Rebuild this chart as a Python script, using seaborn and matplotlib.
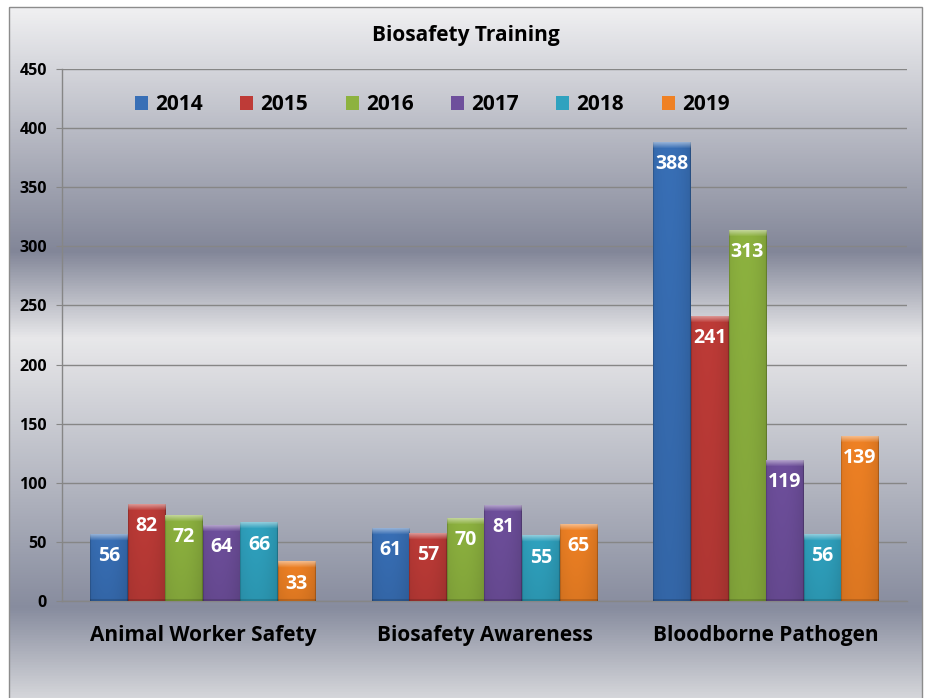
import numpy as np
import pandas as pd
import matplotlib
matplotlib.use("Agg")
import matplotlib.pyplot as plt
import seaborn as sns
from matplotlib.colors import LinearSegmentedColormap, to_rgb
from matplotlib.patches import Rectangle

# ---- data -------------------------------------------------------------
courses = ["Animal Worker Safety", "Biosafety Awareness", "Bloodborne Pathogen"]
years = ["2014", "2015", "2016", "2017", "2018", "2019"]
counts_2014 = [56, 61, 388]
counts_2015 = [82, 57, 241]
counts_2016 = [72, 70, 313]
counts_2017 = [64, 81, 119]
counts_2018 = [66, 55, 56]
counts_2019 = [33, 65, 139]
y_ticks = [0, 50, 100, 150, 200, 250, 300, 350, 400, 450]

series = [counts_2014, counts_2015, counts_2016, counts_2017, counts_2018, counts_2019]
df = pd.DataFrame(
    [(c, y, v) for y, vals in zip(years, series) for c, v in zip(courses, vals)],
    columns=["course", "year", "count"],
)

bar_colors = ["#386FB6", "#BE3B37", "#8DB23F", "#6E4F9C", "#2FA2BF", "#EF8124"]
FONT = "Open Sans"
plt.rcParams["font.family"] = [FONT, "DejaVu Sans"]

W, H = 926, 698
fig = plt.figure(figsize=(W / 100, H / 100), dpi=100)
fig.patch.set_facecolor("white")

# ---- silver banded background of the chart panel ------------------------
bg = fig.add_axes([0, 0, 1, 1], zorder=-10)
bg.set_xlim(0, W)
bg.set_ylim(H, 0)
bg.axis("off")
panel_top, panel_left, panel_right = 7, 9, 922
stops = [
    (0.0, (240, 240, 242)),
    (0.352, (130, 134, 152)),
    (0.478, (232, 232, 234)),
    (0.868, (135, 140, 158)),
    (1.0, (214, 215, 219)),
]
cmap = LinearSegmentedColormap.from_list(
    "silver", [(p, tuple(v / 255 for v in c)) for p, c in stops]
)
grad = cmap(np.linspace(0, 1, 512))[:, None, :3]
bg.imshow(grad, extent=[panel_left, panel_right, H + 2, panel_top],
          aspect="auto", interpolation="bilinear")
bg.add_patch(Rectangle((panel_left, panel_top), panel_right - panel_left, H,
                       fill=False, ec="#8c8c8c", lw=1))

# ---- bars ---------------------------------------------------------------
ax = fig.add_axes([62 / W, 1 - 601 / H, (907 - 62) / W, (601 - 69) / H])
ax.patch.set_visible(False)
sns.barplot(data=df, x="course", y="count", hue="year", hue_order=years,
            order=courses, palette=bar_colors, width=0.8, saturation=1,
            ax=ax, zorder=3, edgecolor="none")

px_per_unit = (601 - 69) / 450.0


def bevel_image(color, h_units):
    base = np.array(to_rgb(color))
    rows = max(int(round(h_units * px_per_unit)), 4)
    cols = 36
    img = np.ones((rows, cols, 3)) * base
    # horizontal shading: darker towards the sides
    xs = np.linspace(0, 1, cols)
    side = 1.0 - 0.10 * (np.abs(xs - 0.42) / 0.58) ** 2
    side[0] *= 0.85
    side[-1] *= 0.80
    img *= side[None, :, None]
    # slight darkening towards the bottom
    ys = np.linspace(0, 1, rows)
    img *= (1.0 - 0.08 * ys)[:, None, None]
    # lighter bevel along the top
    bevel = min(6, rows)
    for r in range(bevel):
        k = 0.45 * (1 - r / bevel)
        img[r] = img[r] * (1 - k) + k
    img[-2:] *= 0.85
    return np.clip(img, 0, 1)


for container, vals in zip(ax.containers, series):
    for patch, v in zip(container, vals):
        x0, w = patch.get_x(), patch.get_width()
        ax.imshow(bevel_image(patch.get_facecolor(), v),
                  extent=(x0, x0 + w, 0, v), aspect="auto",
                  interpolation="bilinear", zorder=3.5)
        ax.annotate(str(v), (x0 + w / 2, v), xytext=(0, -15.5),
                    textcoords="offset points", ha="center", va="center",
                    color="white", fontsize=14, fontweight="bold", zorder=5)

ax.set_xlim(-0.5, 2.5)
ax.set_ylim(0, 450)
ax.set_yticks(y_ticks)
ax.set_yticklabels([str(t) for t in y_ticks], fontsize=11.5, fontweight="bold")
ax.set_xticks(range(len(courses)))
ax.set_xticklabels(courses, fontsize=15, fontweight="bold")
ax.set_xlabel("")
ax.set_ylabel("")
ax.tick_params(axis="y", length=4.3, color="#868686", pad=6.5, labelcolor="black")
ax.tick_params(axis="x", length=0, pad=17, labelcolor="black")
ax.yaxis.grid(True, color="#868686", lw=1)
ax.set_axisbelow(True)
for s in ["top", "right"]:
    ax.spines[s].set_visible(False)
for s in ["left", "bottom"]:
    ax.spines[s].set_color("#868686")
    ax.spines[s].set_linewidth(1)

# ---- legend -------------------------------------------------------------
handles, labels = ax.get_legend_handles_labels()
ax.legend(handles, labels, ncol=6, loc="center", bbox_to_anchor=(0.438, 0.933),
          frameon=False, prop={"weight": "bold", "size": 15},
          handlelength=0.62, handleheight=0.62, handletextpad=0.35,
          columnspacing=1.8)

fig.text(0.503, 1 - 36 / H, "Biosafety Training", ha="center", va="center",
         fontsize=15, fontweight="bold")

fig.savefig("out.png", dpi=100)
